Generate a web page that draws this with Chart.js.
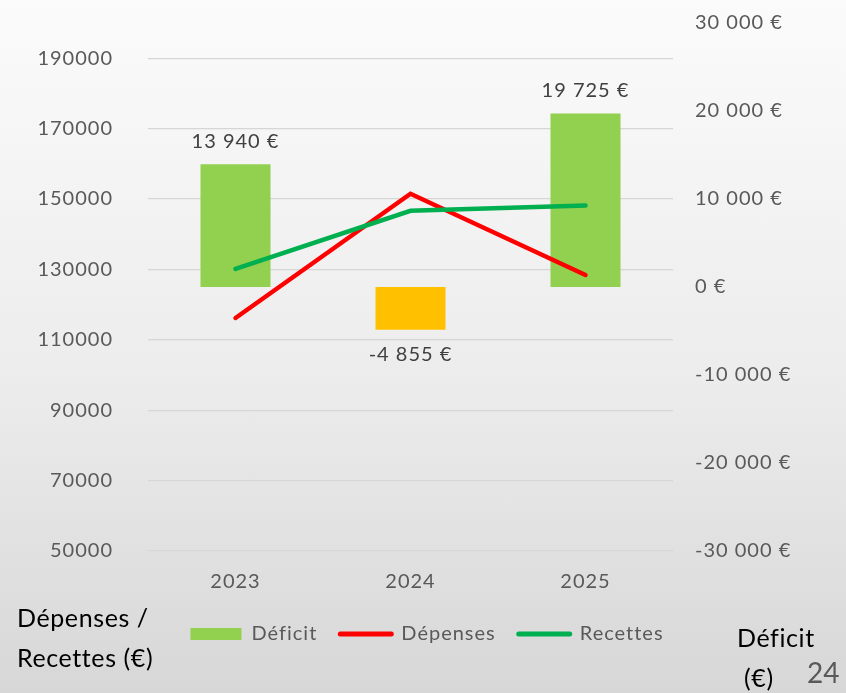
<!DOCTYPE html>
<html>
<head>
<meta charset="utf-8">
<script src="https://cdn.jsdelivr.net/npm/chart.js@4"></script>
<style>
  html, body { margin: 0; padding: 0; }
  body { width: 846px; height: 693px; overflow: hidden; position: relative;
         background: linear-gradient(to bottom, #fbfbfb 0%, #ececec 55%, #d7d7d7 100%);
         font-family: Lato, "Open Sans", sans-serif; }
  #wrap { position: absolute; left: 0; top: 0; width: 846px; height: 693px; }
  .ttl { position: absolute; color: #000; font-size: 25px; line-height: 40px; white-space: nowrap; letter-spacing: 0.6px; }
  #page { position: absolute; color: #595959; font-size: 28px; line-height: 34px; }
</style>
</head>
<body>
<div id="wrap"><canvas id="c" width="846" height="693"></canvas></div>
<div class="ttl" style="left:17px; top:597px;">Dépenses /<br>Recettes (€)</div>
<div class="ttl" style="left:737px; top:617px; text-align:left;">Déficit<br>&nbsp;(€)</div>
<div id="page" style="left:807px; top:655px;">24</div>
<script>
const categories = ['2023', '2024', '2025'];
const deficit = [13940, -4855, 19725];
const depenses = [116200, 151500, 128400];
const recettes = [130140, 146650, 148125];
const leftTicks = [50000, 70000, 90000, 110000, 130000, 150000, 170000, 190000];
const rightTicks = [-30000, -20000, -10000, 0, 10000, 20000, 30000];

const GREEN = '#92D050', ORANGE = '#FFC000', RED = '#FF0000', DKGREEN = '#00B050';
const FONT = 'Lato, "Open Sans", sans-serif';
const FS = 20;

function fmtEuro(v) {
  const s = Math.abs(v).toString().replace(/\B(?=(\d{3})+(?!\d))/g, ' ');
  return (v < 0 ? '-' : '') + s + ' €';
}

const spacingPlugin = {
  id: 'spacing',
  beforeUpdate(chart) { chart.ctx.letterSpacing = '1px'; },
  beforeDraw(chart) { chart.ctx.letterSpacing = '1px'; }
};

const labelPlugin = {
  id: 'barLabels',
  afterDatasetsDraw(chart) {
    const meta = chart.getDatasetMeta(0);
    const ctx = chart.ctx;
    ctx.save();
    ctx.font = FS + 'px ' + FONT;
    ctx.fillStyle = '#404040';
    ctx.textAlign = 'center';
    meta.data.forEach((el, i) => {
      const v = deficit[i];
      if (v >= 0) {
        ctx.textBaseline = 'bottom';
        ctx.fillText(fmtEuro(v), el.x, el.y - 13);
      } else {
        ctx.textBaseline = 'top';
        ctx.fillText(fmtEuro(v), el.x, el.y + 15);
      }
    });
    ctx.restore();
  }
};

function noVPad(s) { s.paddingTop = 0; s.paddingBottom = 0; }

new Chart(document.getElementById('c'), {
  type: 'bar',
  data: {
    labels: categories,
    datasets: [
      { label: 'Déficit', data: deficit, yAxisID: 'y2', order: 3,
        backgroundColor: deficit.map(v => v >= 0 ? GREEN : ORANGE),
        borderWidth: 0, categoryPercentage: 1, barPercentage: 0.4 },
      { type: 'line', label: 'Dépenses', data: depenses, yAxisID: 'y', order: 2,
        borderColor: RED, backgroundColor: RED, borderWidth: 4.5,
        borderCapStyle: 'round', pointRadius: 0, tension: 0 },
      { type: 'line', label: 'Recettes', data: recettes, yAxisID: 'y', order: 1,
        borderColor: DKGREEN, backgroundColor: DKGREEN, borderWidth: 4.5,
        borderCapStyle: 'round', pointRadius: 0, tension: 0 }
    ]
  },
  options: {
    responsive: false,
    animation: false,
    events: [],
    layout: { padding: { left: 8, right: 0, top: 23, bottom: 39 } },
    plugins: {
      tooltip: { enabled: false },
      legend: {
        position: 'bottom',
        labels: {
          usePointStyle: true,
          pointStyleWidth: 51,
          boxHeight: 12,
          padding: 23,
          color: '#595959',
          font: { family: FONT, size: FS },
          sort: (a, b) => a.datasetIndex - b.datasetIndex,
          generateLabels(chart) {
            return chart.data.datasets.map((ds, i) => ({
              text: ds.label,
              datasetIndex: i,
              hidden: false,
              fillStyle: i === 0 ? GREEN : ds.borderColor,
              strokeStyle: i === 0 ? GREEN : ds.borderColor,
              lineWidth: i === 0 ? 0 : 5,
              lineCap: 'round',
              pointStyle: i === 0 ? 'rect' : 'line',
              fontColor: '#595959'
            }));
          }
        }
      }
    },
    scales: {
      x: {
        grid: { display: false, drawTicks: false },
        border: { display: false },
        ticks: { color: '#595959', font: { family: FONT, size: FS }, padding: 19 },
        afterFit(s) { s.height = 50; }
      },
      y: {
        position: 'left',
        min: 50000, max: 200000,
        grid: { color: '#d6d6d6', lineWidth: 1.3, drawTicks: false },
        border: { display: false },
        ticks: { color: '#595959', font: { family: FONT, size: FS }, padding: 35,
                 callback: v => String(v) },
        afterBuildTicks(s) { s.ticks = leftTicks.map(v => ({ value: v })); },
        afterFit(s) { s.width = 140; noVPad(s); }
      },
      y2: {
        position: 'right',
        min: -30000, max: 30000,
        grid: { display: false, drawTicks: false },
        border: { display: false },
        ticks: { color: '#595959', font: { family: FONT, size: FS }, padding: 22,
                 callback: v => fmtEuro(v) },
        afterBuildTicks(s) { s.ticks = rightTicks.map(v => ({ value: v })); },
        afterFit(s) { s.width = 173; noVPad(s); }
      }
    }
  },
  plugins: [spacingPlugin, labelPlugin]
});
</script>
</body>
</html>
